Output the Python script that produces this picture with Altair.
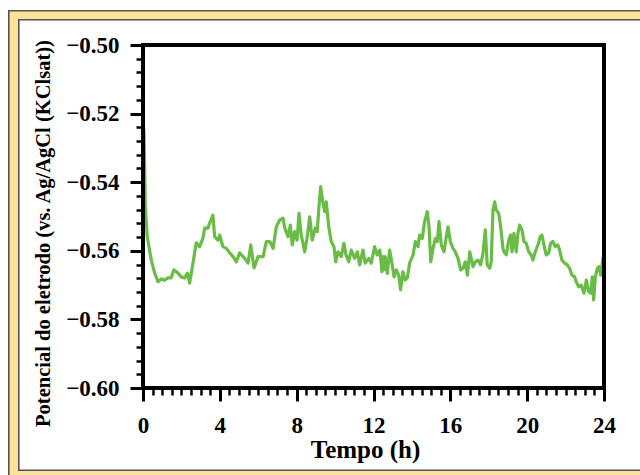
import altair as alt
import pandas as pd

# Time (h)
tempo = [0, 0.05, 0.12, 0.22, 0.43, 0.61, 0.78, 0.95, 1.12, 1.29, 1.46, 1.61, 1.82, 1.98,
         2.17, 2.31, 2.43, 2.60, 2.77, 2.95, 3.12, 3.21, 3.38, 3.47, 3.64, 3.73, 3.90, 3.99,
         4.16, 4.34, 4.51, 4.69, 4.86, 5.03, 5.29, 5.47, 5.61, 5.78, 5.99, 6.25, 6.42, 6.60,
         6.77, 6.94, 7.12, 7.29, 7.38, 7.55, 7.67, 7.77, 7.90, 8.02, 8.12, 8.24, 8.42, 8.55,
         8.68, 8.81, 8.97, 9.07, 9.16, 9.25, 9.37, 9.46, 9.54, 9.67, 9.80, 9.94, 10.03, 10.15,
         10.32, 10.46, 10.57, 10.71, 10.84, 11.02, 11.16, 11.28, 11.45, 11.57, 11.75, 11.88,
         12.06, 12.19, 12.33, 12.44, 12.49, 12.53, 12.61, 12.72, 12.84, 12.96, 13.07, 13.19,
         13.31, 13.41, 13.53, 13.65, 13.76, 13.88, 14.06, 14.18, 14.32, 14.40, 14.54, 14.66,
         14.80, 14.89, 14.98, 15.10, 15.22, 15.32, 15.41, 15.53, 15.67, 15.79, 15.88, 16.00,
         16.14, 16.26, 16.40, 16.54, 16.66, 16.78, 16.89, 17.01, 17.18, 17.30, 17.44, 17.58,
         17.70, 17.82, 17.92, 18.05, 18.13, 18.22, 18.31, 18.39, 18.52, 18.62, 18.74, 18.79,
         18.91, 19.04, 19.14, 19.21, 19.31, 19.43, 19.52, 19.61, 19.73, 19.83, 19.95, 20.08,
         20.21, 20.30, 20.42, 20.56, 20.68, 20.77, 20.87, 20.99, 21.12, 21.22, 21.34, 21.46,
         21.60, 21.69, 21.81, 21.95, 22.09, 22.21, 22.33, 22.47, 22.55, 22.68, 22.81, 22.96,
         23.08, 23.20, 23.31, 23.39, 23.46, 23.55, 23.65, 23.74, 23.83, 23.90, 23.95]

# Electrode potential (V vs. Ag/AgCl (KClsat))
potencial = [-0.5239, -0.5248, -0.5471, -0.5559, -0.5627, -0.5665, -0.5690, -0.5682, -0.5686,
             -0.5679, -0.5679, -0.5656, -0.5665, -0.5676, -0.5679, -0.5665, -0.5694, -0.5636,
             -0.5577, -0.5588, -0.5563, -0.5534, -0.5534, -0.5519, -0.5496, -0.5559, -0.5569,
             -0.5554, -0.5588, -0.5593, -0.5606, -0.5617, -0.5632, -0.5606, -0.5622, -0.5636,
             -0.5583, -0.5650, -0.5617, -0.5617, -0.5573, -0.5573, -0.5593, -0.5530, -0.5510,
             -0.5505, -0.5534, -0.5559, -0.5525, -0.5583, -0.5544, -0.5569, -0.5491, -0.5554,
             -0.5603, -0.5559, -0.5501, -0.5569, -0.5534, -0.5544, -0.5471, -0.5413, -0.5462,
             -0.5486, -0.5457, -0.5530, -0.5573, -0.5588, -0.5632, -0.5603, -0.5617, -0.5578,
             -0.5612, -0.5632, -0.5598, -0.5622, -0.5603, -0.5641, -0.5598, -0.5636, -0.5622,
             -0.5636, -0.5588, -0.5612, -0.5598, -0.5661, -0.5617, -0.5656, -0.5617, -0.5666,
             -0.5598, -0.5636, -0.5676, -0.5656, -0.5671, -0.5714, -0.5661, -0.5685, -0.5679,
             -0.5636, -0.5612, -0.5573, -0.5588, -0.5554, -0.5564, -0.5515, -0.5486, -0.5530,
             -0.5632, -0.5593, -0.5564, -0.5573, -0.5515, -0.5583, -0.5603, -0.5559, -0.5530,
             -0.5573, -0.5593, -0.5603, -0.5622, -0.5656, -0.5651, -0.5632, -0.5671, -0.5603,
             -0.5646, -0.5632, -0.5627, -0.5641, -0.5607, -0.5539, -0.5641, -0.5651, -0.5632,
             -0.5481, -0.5457, -0.5481, -0.5491, -0.5530, -0.5593, -0.5603, -0.5612, -0.5569,
             -0.5554, -0.5603, -0.5549, -0.5603, -0.5549, -0.5525, -0.5539, -0.5573, -0.5578,
             -0.5603, -0.5612, -0.5627, -0.5603, -0.5583, -0.5559, -0.5554, -0.5583, -0.5612,
             -0.5607, -0.5578, -0.5573, -0.5588, -0.5583, -0.5598, -0.5627, -0.5636, -0.5641,
             -0.5651, -0.5671, -0.5676, -0.5690, -0.5705, -0.5700, -0.5724, -0.5685, -0.5719,
             -0.5724, -0.5676, -0.5743, -0.5676, -0.5651, -0.5646, -0.5671, -0.5641, -0.5617]

x_major = [0, 4, 8, 12, 16, 20, 24]
x_minor = [i * 0.5 for i in range(49) if (i * 0.5) % 4 != 0]
y_major = [-0.60, -0.58, -0.56, -0.54, -0.52, -0.50]
y_minor = [round(-0.60 + i * 0.004, 3) for i in range(26) if i % 5 != 0]

df = pd.DataFrame({"t": tempo, "v": potencial})

W, H = 461, 343
L, T = 143, 45
FONT = "Liberation Serif"
YELLOW = "#FBE39B"

xscale = alt.Scale(domain=[0, 24], nice=False, zero=False)
yscale = alt.Scale(domain=[-0.60, -0.50], nice=False, zero=False)

base = alt.Chart(df)

outer = base.mark_rect(fill=YELLOW, stroke="#555555", strokeWidth=1.2, clip=False).encode(
    x=alt.value(9 - L), x2=alt.value(700 - L), y=alt.value(11 - T), y2=alt.value(520 - T)
)
inner = base.mark_rect(fill="white", stroke="#555555", strokeWidth=1.2, clip=False).encode(
    x=alt.value(19 - L), x2=alt.value(700 - L), y=alt.value(20 - T), y2=alt.value(470 - T)
)

line = base.mark_line(color="#69BC45", strokeWidth=3.2, strokeJoin="round").encode(
    x=alt.X("t:Q", scale=xscale, axis=alt.Axis(
        values=x_major, orient="bottom", title="Tempo (h)", format="d",
        tickSize=13, tickWidth=3, tickColor="black", domainColor="black", domainWidth=3,
        labelFont=FONT, labelFontSize=23, labelFontWeight="bold", labelColor="black",
        labelBaseline="alphabetic", labelPadding=31, labelFlush=False,
        titleFont=FONT, titleFontSize=25, titleFontWeight="bold", titleColor="black",
        titleX=222, titleY=69, titleBaseline="alphabetic", titleAlign="center",
        grid=False, zindex=2)),
    y=alt.Y("v:Q", scale=yscale, axis=alt.Axis(
        values=y_major, orient="left", format=".2f",
        title="Potencial do eletrodo (vs. Ag/AgCl (KClsat))",
        tickSize=13, tickWidth=3, tickColor="black", domainColor="black", domainWidth=3,
        labelFont=FONT, labelFontSize=23, labelFontWeight="bold", labelColor="black",
        labelBaseline="middle", labelPadding=11, labelFlush=False,
        titleFont=FONT, titleFontSize=20.5, titleFontWeight="bold", titleColor="black",
        titleX=-100, titleY=188, titleAngle=270, titleBaseline="middle", titleAlign="center",
        grid=False, zindex=2)),
)

minor = base.mark_point(opacity=0).encode(
    x=alt.X("t:Q", scale=xscale, axis=alt.Axis(
        values=x_minor, orient="bottom", title=None, labels=False, domain=False,
        tickSize=7, tickWidth=2.5, tickColor="black", grid=False, zindex=2)),
    y=alt.Y("v:Q", scale=yscale, axis=alt.Axis(
        values=y_minor, orient="left", title=None, labels=False, domain=False,
        tickSize=7, tickWidth=2.5, tickColor="black", grid=False, zindex=2)),
)

border = base.mark_rect(fill=None, stroke="black", strokeWidth=3, clip=False).encode(
    x=alt.value(0), x2=alt.value(W), y=alt.value(0), y2=alt.value(H)
)

chart = (
    alt.layer(outer, inner, line, minor, border)
    .resolve_axis(x="independent", y="independent")
    .resolve_scale(x="shared", y="shared")
    .properties(
        width=W, height=H,
        autosize=alt.AutoSizeParams(type="none"),
        padding={"left": L, "top": T, "right": 640 - L - W, "bottom": 475 - T - H},
        background="white",
    )
    .configure_view(stroke=None)
)

chart.save("out.html", embed_options={"renderer": "svg", "actions": False})
